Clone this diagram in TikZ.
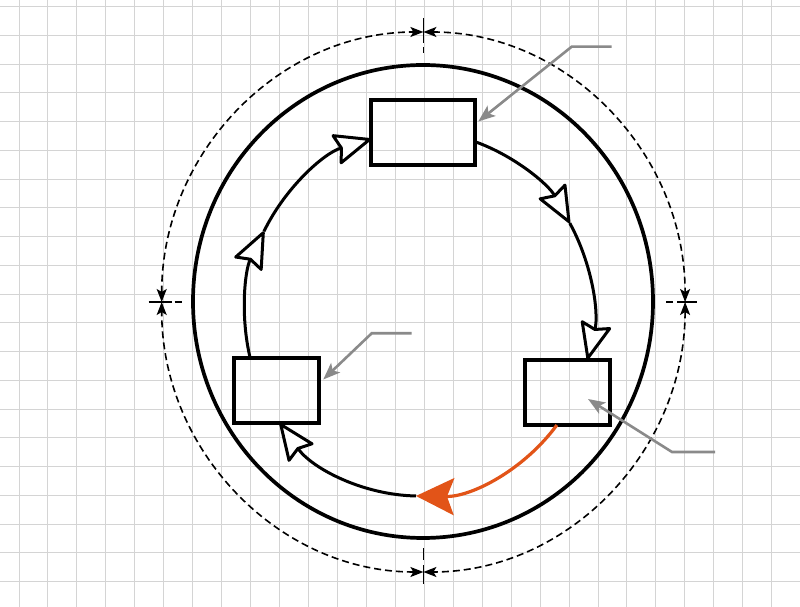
\documentclass[tikz,border=0pt]{standalone}
\usetikzlibrary{arrows.meta,calc}
\definecolor{gridc}{RGB}{212,212,212}
\definecolor{orng}{RGB}{226,84,24}
\definecolor{leadc}{RGB}{138,138,138}
\tikzset{
  openhead/.tip={Stealth[length=40pt,width=33pt,inset=5pt,fill=white,round]},
  orangehead/.tip={Stealth[length=38pt,width=37pt,inset=7pt]},
  dimhead/.tip={Stealth[length=13pt,width=10pt,inset=3pt]},
  leadhead/.tip={Stealth[length=17pt,width=13pt,inset=4pt]},
}
\begin{document}
\begin{tikzpicture}[x=1pt,y=1pt,
  gridline/.style={draw=gridc,line width=1pt},
  boxnode/.style={draw=black,line width=3.5pt,minimum width=#1,minimum height=65pt,inner sep=0pt},
  loopline/.style={draw=black,line width=3pt},
  orangeline/.style={draw=orng,fill=none,line width=3.2pt},
  outerline/.style={draw=black,line width=3.7pt},
  dimline/.style={draw=black,line width=1.6pt,dash pattern=on 7pt off 4pt},
  tickline/.style={draw=black,line width=1.6pt},
  leader/.style={draw=leadc,line width=2.6pt}]
\fill[white] (0,0) rectangle (800,607);
\useasboundingbox (0,0) rectangle (800,607);
\foreach \k in {0,...,27} \draw[gridline] ({19+28.95*\k},0) -- ({19+28.95*\k},607);
\foreach \k in {0,...,21} \draw[gridline] (0,{600.3-28.75*\k}) -- (800,{600.3-28.75*\k});

% centres
\coordinate (C) at (419,293);
\coordinate (O) at (423,305.5);
\coordinate (D) at (423.4,305);

% outer circle
\draw[outerline] (O) ellipse [x radius=230, y radius=236.5];

% dashed dimension circle
\coordinate (dT) at (423.4,575);
\coordinate (dB) at (423.4,35);
\coordinate (dL) at (161.7,305);
\coordinate (dR) at (685.1,305);
\draw[dimline,{dimhead}-{dimhead}] (dT) arc[start angle=90,end angle=0,x radius=261.7,y radius=270];
\draw[dimline,{dimhead}-{dimhead}] (dR) arc[start angle=0,end angle=-90,x radius=261.7,y radius=270];
\draw[dimline,{dimhead}-{dimhead}] (dB) arc[start angle=-90,end angle=-180,x radius=261.7,y radius=270];
\draw[dimline,{dimhead}-{dimhead}] (dL) arc[start angle=180,end angle=90,x radius=261.7,y radius=270];
% ticks
\draw[tickline] ($(dT)+(0,14)$) -- ($(dT)+(0,-11)$);
\draw[tickline] ($(dT)+(0,-15)$) -- ($(dT)+(0,-21)$);
\draw[tickline] ($(dB)+(0,-12)$) -- ($(dB)+(0,7)$);
\draw[tickline] ($(dB)+(0,12)$) -- ($(dB)+(0,24)$);
\draw[tickline] ($(dL)+(-13,0)$) -- ($(dL)+(10,0)$);
\draw[tickline] ($(dL)+(13,0)$) -- ($(dL)+(20,0)$);
\draw[tickline] ($(dR)+(-8,0)$) -- ($(dR)+(12,0)$);
\draw[tickline] ($(dR)+(-12,0)$) -- ($(dR)+(-19,0)$);

% boxes
\node[boxnode=104pt] (topbox) at (423,474.5) {};
\node[boxnode=85pt] (lbox) at (276.5,216.5) {};
\node[boxnode=85pt] (rbox) at (567.5,214.5) {};

% loop points
\path (C) ++(71.2:174 and 182) coordinate (p1);
\path (C) ++(30:174 and 182) coordinate (m1);
\path (C) ++(-37.6:174 and 182) coordinate (p3);
\path (C) ++(-91:174 and 182) coordinate (p4);
\path (C) ++(194:174 and 182) coordinate (p6);
\path (C) ++(153:174 and 182) coordinate (m2);

\draw[loopline,-{openhead}] (p1) arc[start angle=71.2,end angle=30,x radius=174,y radius=182];
\draw[loopline,-{openhead}] (m1) arc[start angle=30,end angle=-14.5,x radius=174,y radius=182];
\draw[orangeline,-{orangehead}] (p3) arc[start angle=-37.6,end angle=-91,x radius=174,y radius=182];
\draw[loopline,-{openhead}] (p4) arc[start angle=-91,end angle=-143.1,x radius=174,y radius=182];
\draw[loopline,-{openhead}] (p6) arc[start angle=194,end angle=153,x radius=174,y radius=182];
\draw[loopline,-{openhead}] (m2) arc[start angle=153,end angle=106,x radius=174,y radius=182];

% leaders
\coordinate (L1e) at (611.7,560.3);
\coordinate (L1k) at (571.7,560.3);
\draw[leader,-{leadhead}] (L1e) -- (L1k) -- ($(topbox.east)+(1.5,11)$);
\coordinate (L2e) at (411.7,273.7);
\coordinate (L2k) at (371.7,273.7);
\draw[leader,-{leadhead}] (L2e) -- (L2k) -- ($(lbox.east)+(2.5,11)$);
\coordinate (L3e) at (715,155);
\coordinate (L3k) at (672,155);
\draw[leader,-{leadhead}] (L3e) -- (L3k) -- ($(rbox.center)+(20.5,-6.5)$);
\end{tikzpicture}
\end{document}
